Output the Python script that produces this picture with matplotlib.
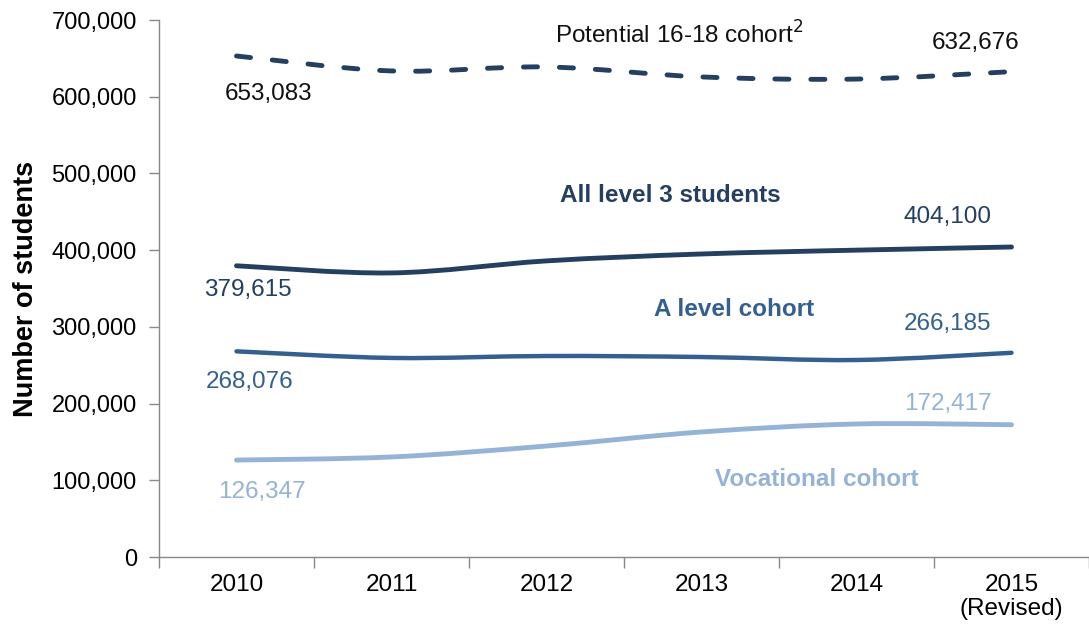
import matplotlib
matplotlib.use("Agg")
import matplotlib.pyplot as plt
from matplotlib.ticker import FuncFormatter
from matplotlib.path import Path
from matplotlib.patches import PathPatch

plt.rcParams['font.family'] = ['Liberation Sans', 'DejaVu Sans']

years = ["2010", "2011", "2012", "2013", "2014", "2015\n(Revised)"]
potential = [653083, 633600, 638800, 625800, 623000, 632676]
all_level3 = [379615, 370300, 386000, 395000, 400000, 404100]
a_level = [268076, 259500, 262000, 260700, 256800, 266185]
vocational = [126347, 130400, 144700, 163000, 173400, 172417]

c_navy = "#243F60"
c_alevel = "#34608F"
c_voc = "#95B3D7"

fig = plt.figure(figsize=(10.89, 6.27), dpi=100)
ax = fig.add_axes([159/1089, 1-557/627, 1-159/1089, (557-20)/627])


def smooth_line(xs, ys, **kw):
    # Excel-style smoothed line: cubic Bezier segments through the data points
    n = len(xs)
    pts = list(zip(xs, ys))
    verts = [pts[0]]
    codes = [Path.MOVETO]
    for i in range(n - 1):
        p0 = pts[i - 1] if i > 0 else pts[i]
        p1 = pts[i]
        p2 = pts[i + 1]
        p3 = pts[i + 2] if i + 2 < n else pts[i + 1]
        c1 = (p1[0] + (p2[0] - p0[0]) / 6, p1[1] + (p2[1] - p0[1]) / 6)
        c2 = (p2[0] - (p3[0] - p1[0]) / 6, p2[1] - (p3[1] - p1[1]) / 6)
        verts += [c1, c2, p2]
        codes += [Path.CURVE4] * 3
    ax.add_patch(PathPatch(Path(verts, codes), fill=False, **kw))


x = list(range(len(years)))
smooth_line(x, potential, edgecolor=c_navy, lw=3.5, linestyle=(0, (2.9, 4.5)), capstyle='round')
smooth_line(x, all_level3, edgecolor=c_navy, lw=3.5, capstyle='round')
smooth_line(x, a_level, edgecolor=c_alevel, lw=3.2, capstyle='round')
smooth_line(x, vocational, edgecolor=c_voc, lw=3.5, capstyle='round')

ax.set_xlim(-0.5, 5.5)
ax.set_ylim(0, 700000)
ax.set_yticks(range(0, 700001, 100000))
ax.yaxis.set_major_formatter(FuncFormatter(lambda v, p: f"{int(v):,}"))
ax.set_xticks(x)
ax.set_xticklabels(years, fontsize=17.5, linespacing=1.15)
ax.set_xticks([i + 0.5 for i in range(-1, 6)], minor=True)
ax.tick_params(axis='x', which='major', length=0, pad=12)
ax.tick_params(axis='x', which='minor', length=8, color='#888888', width=1)
ax.tick_params(axis='y', length=7, color='#888888', width=1, labelsize=17, pad=9)
for s in ['top', 'right']:
    ax.spines[s].set_visible(False)
for s in ['left', 'bottom']:
    ax.spines[s].set_color('#888888')
    ax.spines[s].set_linewidth(1)
ax.set_ylabel("Number of students", fontsize=19.5, fontweight='bold', labelpad=9)


def px(xp, yp):
    return ((xp - 238) / 155, (557 - yp) / 76.7 * 100000)


def label(xp, yp, text, color, bold=False, size=17.5):
    ax.text(*px(xp, yp), text, color=color, fontsize=size,
            fontweight='bold' if bold else 'normal', ha='center', va='center')


label(270, 94, f"{potential[0]:,}", "#111111")
label(977, 43, f"{potential[-1]:,}", "#111111")
label(681, 35, "Potential 16-18 cohort$^{2}$", "#111111")
label(672, 196, "All level 3 students", c_navy, bold=True)
label(949, 217, f"{all_level3[-1]:,}", c_navy)
label(249, 290, f"{all_level3[0]:,}", c_navy)
label(736, 310, "A level cohort", c_alevel, bold=True)
label(949, 324, f"{a_level[-1]:,}", c_alevel)
label(251, 382, f"{a_level[0]:,}", c_alevel)
label(949, 404, f"{vocational[-1]:,}", c_voc)
label(263, 492, f"{vocational[0]:,}", c_voc)
label(818, 480, "Vocational cohort", c_voc, bold=True)

fig.savefig("out.png", dpi=100)
